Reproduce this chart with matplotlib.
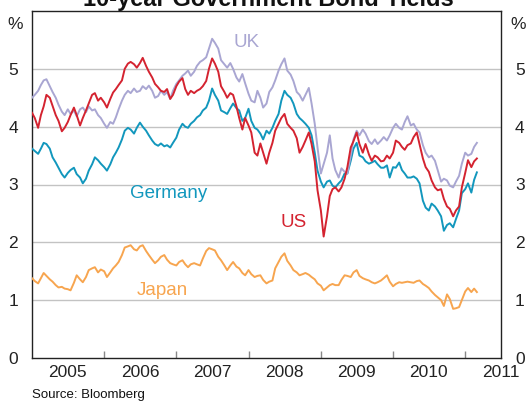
import matplotlib
matplotlib.use("Agg")
import matplotlib.pyplot as plt
import pandas as pd

plt.rcParams['font.family'] = ['Liberation Sans', 'DejaVu Sans']

# Semi-monthly observation dates (1st and 15th of each month)
dates = pd.date_range('2005-01-01', '2011-03-01', freq='SMS')

uk = [4.50, 4.55, 4.62, 4.72, 4.80, 4.82, 4.70, 4.60, 4.50, 4.38, 4.26, 4.20,
      4.30, 4.22, 4.28, 4.18, 4.30, 4.33, 4.25, 4.35, 4.28, 4.30, 4.20, 4.15,
      4.05, 3.98, 4.08, 4.05, 4.16, 4.30, 4.45, 4.55, 4.62, 4.58, 4.66, 4.60,
      4.62, 4.70, 4.65, 4.71, 4.62, 4.50, 4.53, 4.62, 4.55, 4.60, 4.48, 4.62,
      4.74, 4.80, 4.88, 4.92, 4.97, 4.88, 4.95, 5.05, 5.12, 5.15, 5.20, 5.35,
      5.52, 5.45, 5.35, 5.15, 5.08, 5.02, 5.10, 5.00, 4.85, 4.78, 4.91, 4.75,
      4.57, 4.45, 4.42, 4.62, 4.50, 4.33, 4.40, 4.60, 4.68, 4.80, 4.97, 5.08,
      5.18, 4.97, 4.90, 4.79, 4.60, 4.55, 4.45, 4.55, 4.67, 4.40, 4.05, 3.64,
      3.19, 3.35, 3.55, 3.85, 3.45, 3.25, 3.12, 3.28, 3.22, 3.19, 3.50, 3.78,
      3.93, 3.85, 3.95, 3.88, 3.75, 3.70, 3.78, 3.70, 3.76, 3.82, 3.76, 3.85,
      3.98, 4.05, 3.98, 3.95, 4.08, 4.18, 4.02, 4.05, 3.95, 3.90, 3.68, 3.55,
      3.47, 3.50, 3.41, 3.25, 3.05, 3.10, 3.07, 2.98, 2.95, 3.05, 3.15, 3.36,
      3.55, 3.50, 3.53, 3.65, 3.72]

us = [4.24, 4.15, 3.98, 4.20, 4.35, 4.55, 4.50, 4.36, 4.20, 4.10, 3.92, 3.98,
      4.08, 4.20, 4.33, 4.20, 4.02, 4.15, 4.28, 4.40, 4.55, 4.58, 4.45, 4.50,
      4.42, 4.33, 4.48, 4.59, 4.65, 4.72, 4.80, 5.00, 5.09, 5.12, 5.08, 5.02,
      5.10, 5.19, 5.05, 4.95, 4.85, 4.74, 4.68, 4.62, 4.60, 4.65, 4.48, 4.55,
      4.70, 4.78, 4.84, 4.65, 4.55, 4.62, 4.58, 4.62, 4.65, 4.70, 4.79, 5.00,
      5.18, 5.09, 4.95, 4.70, 4.60, 4.50, 4.58, 4.55, 4.35, 4.15, 3.95, 4.15,
      4.02, 3.90, 3.55, 3.50, 3.71, 3.55, 3.36, 3.55, 3.72, 3.93, 4.05, 4.15,
      4.22, 4.05, 3.98, 3.93, 3.80, 3.55, 3.65, 3.76, 3.90, 3.70, 3.40, 2.90,
      2.55, 2.10, 2.45, 2.80, 2.92, 2.95, 2.88, 2.95, 3.10, 3.30, 3.64, 3.75,
      3.90, 3.70, 3.55, 3.70, 3.52, 3.41, 3.50, 3.47, 3.40, 3.41, 3.50, 3.45,
      3.55, 3.76, 3.72, 3.65, 3.60, 3.68, 3.71, 3.82, 3.90, 3.70, 3.45, 3.30,
      3.22, 3.07, 2.95, 2.90, 2.92, 2.75, 2.62, 2.58, 2.45, 2.55, 2.62, 2.95,
      3.20, 3.42, 3.30, 3.40, 3.45]

germany = [3.62, 3.58, 3.53, 3.62, 3.72, 3.70, 3.62, 3.47, 3.38, 3.29, 3.18, 3.12,
           3.20, 3.25, 3.29, 3.18, 3.12, 3.02, 3.10, 3.24, 3.35, 3.47, 3.42, 3.36,
           3.30, 3.24, 3.35, 3.47, 3.55, 3.64, 3.78, 3.93, 3.98, 3.95, 3.88, 3.98,
           4.07, 4.00, 3.93, 3.85, 3.76, 3.70, 3.67, 3.71, 3.66, 3.68, 3.64, 3.72,
           3.81, 3.95, 4.05, 4.00, 3.98, 4.05, 4.10, 4.16, 4.20, 4.28, 4.33, 4.45,
           4.66, 4.55, 4.45, 4.28, 4.25, 4.22, 4.32, 4.40, 4.32, 4.28, 4.10, 4.15,
           4.31, 4.10, 3.98, 3.95, 3.88, 3.78, 3.93, 3.88, 3.98, 4.10, 4.22, 4.45,
           4.62, 4.55, 4.50, 4.40, 4.22, 4.15, 4.10, 4.05, 3.98, 3.85, 3.55, 3.24,
           3.05, 2.95, 3.05, 3.07, 2.98, 2.95, 3.02, 3.07, 3.19, 3.19, 3.41, 3.62,
           3.72, 3.50, 3.47, 3.40, 3.36, 3.38, 3.41, 3.35, 3.29, 3.29, 3.33, 3.12,
           3.30, 3.29, 3.38, 3.25, 3.19, 3.12, 3.12, 3.14, 3.10, 3.02, 2.72, 2.60,
           2.55, 2.67, 2.62, 2.55, 2.45, 2.20, 2.30, 2.33, 2.26, 2.40, 2.55, 2.85,
           2.92, 3.02, 2.86, 3.08, 3.21]

japan = [1.38, 1.33, 1.29, 1.38, 1.47, 1.42, 1.36, 1.32, 1.26, 1.22, 1.23, 1.20,
         1.19, 1.17, 1.30, 1.43, 1.36, 1.31, 1.40, 1.52, 1.55, 1.57, 1.48, 1.53,
         1.50, 1.40, 1.48, 1.55, 1.60, 1.66, 1.78, 1.91, 1.93, 1.95, 1.88, 1.86,
         1.93, 1.95, 1.85, 1.78, 1.70, 1.64, 1.69, 1.75, 1.78, 1.70, 1.64, 1.62,
         1.60, 1.66, 1.69, 1.62, 1.57, 1.62, 1.64, 1.62, 1.60, 1.72, 1.85, 1.90,
         1.88, 1.86, 1.75, 1.69, 1.60, 1.52, 1.60, 1.66, 1.58, 1.55, 1.47, 1.43,
         1.52, 1.45, 1.40, 1.42, 1.43, 1.35, 1.29, 1.32, 1.34, 1.55, 1.66, 1.75,
         1.81, 1.68, 1.60, 1.52, 1.48, 1.43, 1.45, 1.47, 1.44, 1.40, 1.36, 1.29,
         1.25, 1.17, 1.22, 1.26, 1.28, 1.26, 1.26, 1.35, 1.43, 1.42, 1.40, 1.48,
         1.52, 1.42, 1.38, 1.36, 1.34, 1.31, 1.29, 1.31, 1.34, 1.38, 1.43, 1.32,
         1.24, 1.28, 1.31, 1.30, 1.31, 1.32, 1.31, 1.30, 1.33, 1.34, 1.28, 1.25,
         1.21, 1.15, 1.09, 1.05, 1.00, 0.90, 1.10, 1.02, 0.85, 0.86, 0.88, 1.00,
         1.15, 1.21, 1.14, 1.20, 1.14]

colors = {'UK': '#a9a6d2', 'US': '#d42330', 'Germany': '#1297bd', 'Japan': '#f7a54f'}
year_labels = ['2005', '2006', '2007', '2008', '2009', '2010', '2011']
y_ticks = [0, 1, 2, 3, 4, 5]

fig = plt.figure(figsize=(5.28, 4.01), dpi=100)
ax = fig.add_axes([32/528, 1 - 358/401, (501-32)/528, (358-11)/401])

data = {'UK': uk, 'US': us, 'Germany': germany, 'Japan': japan}
for name in ['Japan', 'Germany', 'UK', 'US']:
    ax.plot(dates, data[name], color=colors[name], lw=1.4, zorder=3)

ax.set_ylim(0, 6)
ax.set_xlim(pd.Timestamp('2005-01-01'), pd.Timestamp('2011-07-01'))

for v in y_ticks[1:]:
    ax.axhline(v, color='#c3c3c3', lw=1.0, zorder=1)

ax.set_yticks(y_ticks)
ax.set_yticklabels([str(v) for v in y_ticks])
ax.tick_params(axis='y', length=0, labelsize=12.5, pad=10, colors='#222222',
               left=True, right=True, labelleft=True, labelright=True)

major = [pd.Timestamp(f'{y}-01-01') for y in range(2006, 2012)]
minor = [pd.Timestamp(f'{y}-07-01') for y in range(2005, 2012)]
ax.set_xticks(major)
ax.set_xticklabels([''] * len(major))
ax.set_xticks(minor, minor=True)
ax.set_xticklabels(year_labels, minor=True)
ax.tick_params(axis='x', which='major', direction='in', length=5, width=1,
               color='#888888', top=False)
ax.tick_params(axis='x', which='minor', length=0, labelsize=12.5, pad=5,
               colors='#222222', top=False)

for s in ax.spines.values():
    s.set_color('#222222')
    s.set_linewidth(1.0)

ax.text(-0.036, 5.77, '%', transform=ax.get_yaxis_transform(), ha='center',
        va='center', fontsize=12.5, color='#222222')
ax.text(1.037, 5.77, '%', transform=ax.get_yaxis_transform(), ha='center',
        va='center', fontsize=12.5, color='#222222')

ax.text(pd.Timestamp('2007-10-15'), 5.45, 'UK', color=colors['UK'], fontsize=13.5,
        ha='left', va='center')
ax.text(pd.Timestamp('2006-05-13'), 2.84, 'Germany', color=colors['Germany'],
        fontsize=13.5, ha='left', va='center')
ax.text(pd.Timestamp('2008-06-10'), 2.34, 'US', color=colors['US'], fontsize=13.5,
        ha='left', va='center')
ax.text(pd.Timestamp('2006-06-17'), 1.17, 'Japan', color=colors['Japan'],
        fontsize=13.5, ha='left', va='center')

fig.text(268/528, 1 - 6/401, '10-year Government Bond Yields', ha='center',
         va='baseline', fontsize=17, fontweight='bold', color='#111111')
fig.text(32/528, 1 - 395/401, 'Source: Bloomberg', ha='left', va='center',
         fontsize=9.5, color='#111111')

fig.savefig('out.png', dpi=100)
